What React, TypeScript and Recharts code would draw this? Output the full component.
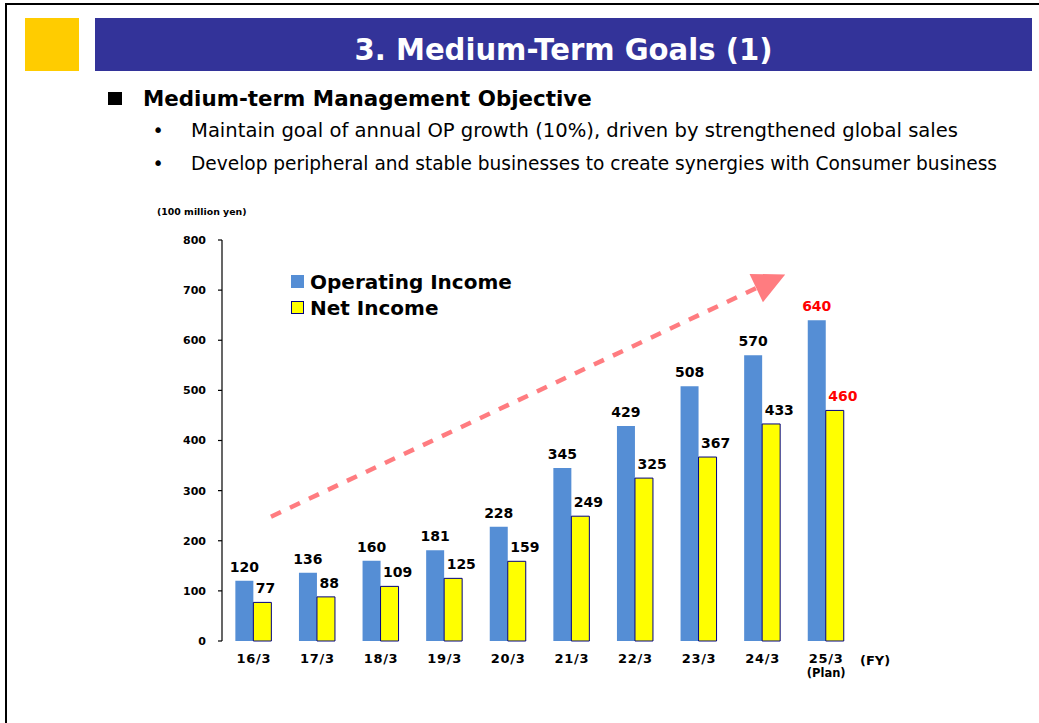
import React from "react";
import { BarChart, Bar, XAxis, YAxis, LabelList, Legend, ReferenceLine } from "recharts";

// fiscal years (100 million yen)
const years = ["16/3", "17/3", "18/3", "19/3", "20/3", "21/3", "22/3", "23/3", "24/3", "25/3"];
const operatingIncome = [120, 136, 160, 181, 228, 345, 429, 508, 570, 640];
const netIncome = [77, 88, 109, 125, 159, 249, 325, 367, 433, 460];
const planFlags = [false, false, false, false, false, false, false, false, false, true];
const yTicks = [0, 100, 200, 300, 400, 500, 600, 700, 800];
const edgeTicks = [0, 1, 2, 3, 4, 5, 6, 7, 8, 9, 10];

// trend arrow, in (category slot, value) units
const trendStart = { x: 0.77, y: 248 };
const trendEnd = { x: 8.4, y: 704 };

const data = years.map((fy, i) => ({
  fy,
  slot: i,
  op: operatingIncome[i],
  ni: netIncome[i],
  plan: planFlags[i],
}));

const FONT = "'DejaVu Sans', Verdana, sans-serif";
const BLUE = "#558ED5";
const YELLOW = "#FFFF00";
const NAVY = "#000080";
const RED = "#FF0000";
const ARROW = "#FF7C80";

function FyTick(props: any) {
  const { x, y, payload } = props;
  const i = years.indexOf(payload.value);
  return (
    <g fontFamily={FONT} fontWeight="bold" fill="#000">
      <text x={x} y={y + 21.5} textAnchor="middle" fontSize={13} letterSpacing={0.7}>
        {payload.value}
      </text>
      {planFlags[i] && (
        <text x={x} y={y + 36} textAnchor="middle" fontSize={11.5}>
          (Plan)
        </text>
      )}
    </g>
  );
}

function OpLabel(props: any) {
  const { x, y, width, value, index } = props;
  const red = planFlags[index];
  return (
    <text
      x={x + width / 2}
      y={y - 9}
      textAnchor="middle"
      fontFamily={FONT}
      fontWeight="bold"
      fontSize={14}
      fill={red ? RED : "#000"}
    >
      {value}
    </text>
  );
}

function NiLabel(props: any) {
  const { x, y, value, index } = props;
  const red = planFlags[index];
  return (
    <text
      x={x + 2.5}
      y={y - 9}
      textAnchor="start"
      fontFamily={FONT}
      fontWeight="bold"
      fontSize={14}
      fill={red ? RED : "#000"}
    >
      {value}
    </text>
  );
}

function TrendArrow(props: any) {
  const { x1, y1, x2, y2 } = props;
  const dx = x2 - x1;
  const dy = y2 - y1;
  const len = Math.sqrt(dx * dx + dy * dy) || 1;
  const ux = dx / len;
  const uy = dy / len;
  const head = 32;
  const half = 15.7;
  const pts = [
    [x2 + ux * head, y2 + uy * head],
    [x2 - uy * half, y2 + ux * half],
    [x2 + uy * half, y2 - ux * half],
  ]
    .map((p) => p.join(","))
    .join(" ");
  return (
    <g>
      <line x1={x1} y1={y1} x2={x2} y2={y2} stroke={ARROW} strokeWidth={4.5} strokeDasharray="11 10" />
      <polygon points={pts} fill={ARROW} />
    </g>
  );
}

function LegendBox() {
  const rows = [
    { name: "Operating Income", fill: BLUE, stroke: "none" },
    { name: "Net Income", fill: YELLOW, stroke: NAVY },
  ];
  return (
    <div style={{ fontFamily: FONT, fontWeight: "bold", fontSize: 20, color: "#000" }}>
      {rows.map((r) => (
        <div key={r.name} style={{ display: "flex", alignItems: "center", height: 26, whiteSpace: "nowrap" }}>
          <span
            style={{
              display: "inline-block",
              width: 12.5,
              height: 12.5,
              boxSizing: "border-box",
              background: r.fill,
              border: r.stroke === "none" ? "none" : `1.5px solid ${r.stroke}`,
              marginRight: 6.5,
            }}
          />
          <span style={{ lineHeight: "26px" }}>{r.name}</span>
        </div>
      ))}
    </div>
  );
}

export default function App() {
  return (
    <div
      style={{
        position: "absolute",
        left: 0,
        top: 0,
        width: 1039,
        height: 723,
        background: "#fff",
        overflow: "hidden",
        fontFamily: FONT,
      }}
    >
      {/* page frame */}
      <div style={{ position: "absolute", left: 5, top: 3, width: 1034, height: 2, background: "#000" }} />
      <div style={{ position: "absolute", left: 5, top: 3, width: 2, height: 720, background: "#000" }} />

      <svg width={1039} height={230} style={{ position: "absolute", left: 0, top: 0 }}>
        <rect x={25} y={18} width={54} height={53} fill="#FFCC00" />
        <rect x={95} y={18} width={937} height={53} fill="#333399" />
        <text
          x={563.5}
          y={60}
          textAnchor="middle"
          fontFamily={FONT}
          fontWeight="bold"
          fontSize={31}
          fill="#fff"
          textLength={418}
          lengthAdjust="spacingAndGlyphs"
        >
          3. Medium-Term Goals (1)
        </text>
        <rect x={108} y={92} width={14} height={13} fill="#000" />
        <text x={143} y={105.5} fontFamily={FONT} fontWeight="bold" fontSize={21.4} fill="#000">
          Medium-term Management Objective
        </text>
        <text x={158} y={137} fontFamily={FONT} fontSize={19} fill="#000" textAnchor="middle">
          •
        </text>
        <text
          x={191}
          y={137}
          fontFamily={FONT}
          fontSize={19}
          fill="#000"
          textLength={767}
          lengthAdjust="spacingAndGlyphs"
        >
          Maintain goal of annual OP growth (10%), driven by strengthened global sales
        </text>
        <text x={158} y={170} fontFamily={FONT} fontSize={19} fill="#000" textAnchor="middle">
          •
        </text>
        <text
          x={191}
          y={170}
          fontFamily={FONT}
          fontSize={19}
          fill="#000"
          textLength={806}
          lengthAdjust="spacingAndGlyphs"
        >
          Develop peripheral and stable businesses to create synergies with Consumer business
        </text>
        <text x={157} y={215} fontFamily={FONT} fontWeight="bold" fontSize={9.4} fill="#000">
          (100 million yen)
        </text>
      </svg>

      <div style={{ position: "absolute", left: 0, top: 0 }}>
        <BarChart
          width={1039}
          height={723}
          data={data}
          margin={{ top: 240, right: 181, bottom: 52, left: 162 }}
          barCategoryGap="21%"
          barGap={0}
        >
          <XAxis
            xAxisId="edge"
            dataKey="slot"
            type="number"
            domain={[0, 10]}
            ticks={edgeTicks}
            allowDataOverflow
            height={0}
            tick={false}
            tickSize={4}
            axisLine={{ stroke: "#000", strokeWidth: 1.2 }}
            tickLine={{ stroke: "#000", strokeWidth: 1.2 }}
          />
          <XAxis
            xAxisId="cat"
            dataKey="fy"
            height={30}
            axisLine={false}
            tickLine={false}
            tickSize={0}
            tickMargin={0}
            interval={0}
            tick={<FyTick />}
            label={(p: any) => {
              const vb = p.viewBox || {};
              return (
                <text
                  x={vb.x + vb.width + 2}
                  y={vb.y + 24}
                  fontFamily={FONT}
                  fontWeight="bold"
                  fontSize={13}
                  fill="#000"
                >
                  (FY)
                </text>
              );
            }}
          />
          <YAxis
            width={60}
            domain={[0, 800]}
            ticks={yTicks}
            interval={0}
            tickSize={4}
            tickMargin={12}
            axisLine={{ stroke: "#000", strokeWidth: 1.2 }}
            tickLine={{ stroke: "#000", strokeWidth: 1.2 }}
            tick={{ fill: "#000", fontSize: 11, fontWeight: "bold", fontFamily: FONT }}
          />
          <Legend
            verticalAlign="middle"
            align="center"
            content={<LegendBox />}
            wrapperStyle={{ position: "absolute", left: 291, top: 268.5, width: "auto" }}
          />
          <Bar dataKey="op" xAxisId="cat" fill={BLUE} isAnimationActive={false}>
            <LabelList dataKey="op" content={<OpLabel />} />
          </Bar>
          <Bar dataKey="ni" xAxisId="cat" fill={YELLOW} stroke={NAVY} strokeWidth={1} isAnimationActive={false}>
            <LabelList dataKey="ni" content={<NiLabel />} />
          </Bar>
          <ReferenceLine
            xAxisId="edge"
            segment={[trendStart, trendEnd]}
            ifOverflow="visible"
            shape={<TrendArrow />}
          />
        </BarChart>
      </div>
    </div>
  );
}
